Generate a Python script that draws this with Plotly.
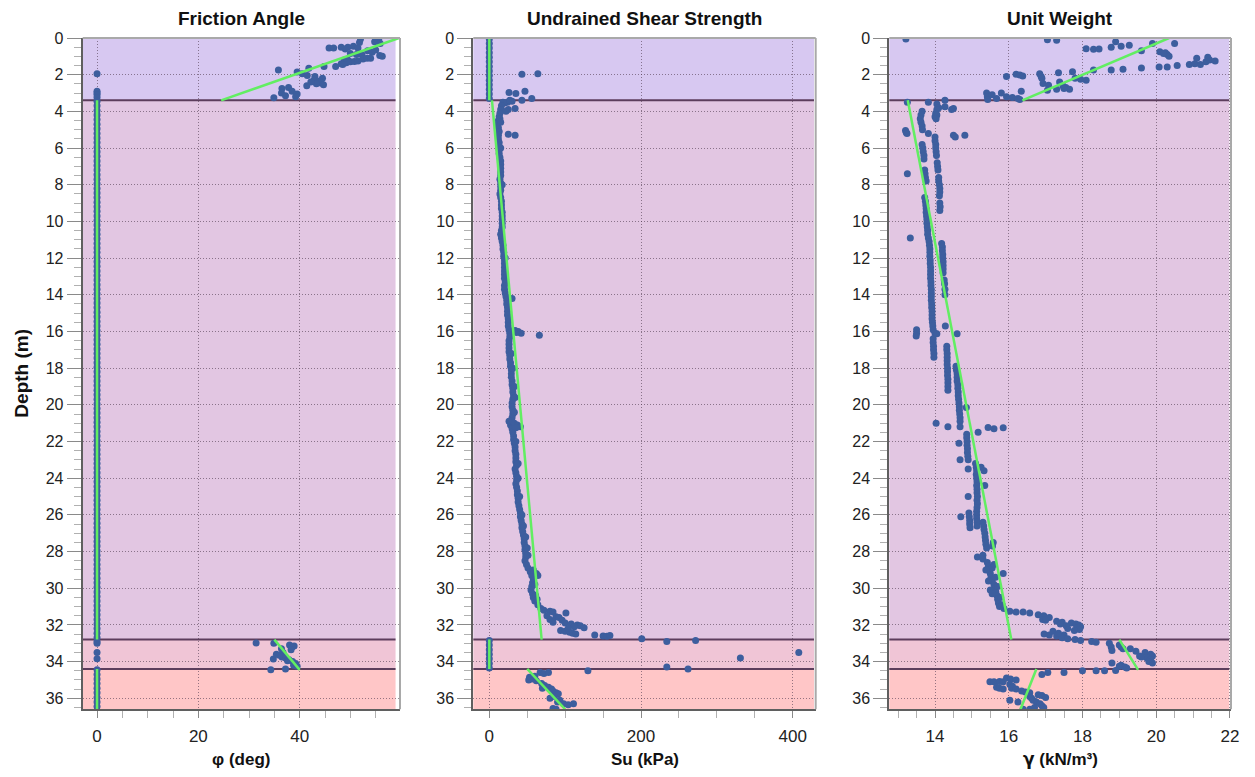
import plotly.graph_objects as go

# ---------------- layers ----------------
layer_tops = [0.0, 3.4, 32.8, 34.4]
layer_bottoms = [3.4, 32.8, 34.4, 36.6]
layer_colors = ["#d7c8f1", "#e2c6e2", "#f0c5d6", "#ffc6c7"]
boundary_depths = [3.4, 32.8, 34.4]

# ---------------- Friction angle (depth, phi) ----------------
phi_points_layer1 = [
    (0.05, 52.0), (0.02, 55.0), (0.1, 55.6), (0.2, 54.8), (0.3, 55.9), (0.25, 51.8), (0.5, 49.5),
    (0.55, 45.8), (0.55, 46.7), (0.5, 48.2), (0.45, 50.6), (0.55, 51.5), (0.6, 49.0), (0.65, 55.0),
    (0.7, 53.4), (0.78, 54.3), (0.85, 50.0), (0.9, 51.2), (0.92, 52.3), (0.95, 55.8), (1.0, 56.3),
    (1.2, 48.8), (1.2, 49.5), (1.15, 52.5), (1.1, 53.3), (1.1, 54.0), (1.4, 48.2), (1.35, 49.2),
    (1.3, 50.0), (1.28, 50.8), (1.45, 48.5), (1.25, 51.5), (1.55, 44.8), (1.55, 47.1), (1.65, 41.8),
    (1.75, 35.8), (1.85, 39.5), (1.95, 40.5), (2.05, 41.5), (2.1, 43.0), (2.2, 44.5), (2.3, 42.8),
    (2.35, 43.9), (2.45, 44.2), (2.5, 43.3), (2.55, 44.7), (2.4, 42.2), (2.6, 41.4), (2.7, 37.8),
    (2.75, 36.5), (2.9, 38.5), (3.0, 36.4), (3.05, 39.5), (3.2, 39.2), (3.26, 34.9), (3.15, 37.2),
]
phi_points_layer3 = [
    (32.99, 31.4), (33.0, 34.9), (34.44, 34.3), (33.86, 34.8), (33.6, 35.4), (33.3, 36.4),
    (33.5, 36.7), (33.75, 36.5), (33.8, 37.2), (33.95, 37.6), (34.4, 37.2), (33.1, 38.0),
    (33.2, 38.5), (33.15, 38.9), (33.35, 38.3), (34.0, 38.6), (34.1, 39.2), (34.25, 39.5),
    (34.2, 38.8), (33.65, 36.0), (33.9, 37.9),
]
phi_points_zero = [
    (1.95, 0), (2.9, 0), (3.0, 0), (3.1, 0), (3.25, 0),
    (3.45, 0), (3.7, 0), (3.95, 0), (4.2, 0), (4.45, 0), (4.7, 0), (4.95, 0), (5.2, 0), (5.45, 0), (5.7, 0),
    (5.95, 0), (6.2, 0), (6.45, 0), (6.7, 0), (6.95, 0), (7.2, 0), (7.45, 0), (7.7, 0), (7.95, 0), (8.2, 0),
    (8.45, 0), (8.7, 0), (8.95, 0), (9.2, 0), (9.45, 0), (9.7, 0), (9.95, 0), (10.2, 0), (10.45, 0), (10.7, 0),
    (10.95, 0), (11.2, 0), (11.45, 0), (11.7, 0), (11.95, 0), (12.2, 0), (12.45, 0), (12.7, 0), (12.95, 0), (13.2, 0),
    (13.45, 0), (13.7, 0), (13.95, 0), (14.2, 0), (14.45, 0), (14.7, 0), (14.95, 0), (15.2, 0), (15.45, 0), (15.7, 0),
    (15.95, 0), (16.2, 0), (16.45, 0), (16.7, 0), (16.95, 0), (17.2, 0), (17.45, 0), (17.7, 0), (17.95, 0), (18.2, 0),
    (18.45, 0), (18.7, 0), (18.95, 0), (19.2, 0), (19.45, 0), (19.7, 0), (19.95, 0), (20.2, 0), (20.45, 0), (20.7, 0),
    (20.95, 0), (21.2, 0), (21.45, 0), (21.7, 0), (21.95, 0), (22.2, 0), (22.45, 0), (22.7, 0), (22.95, 0), (23.2, 0),
    (23.45, 0), (23.7, 0), (23.95, 0), (24.2, 0), (24.45, 0), (24.7, 0), (24.95, 0), (25.2, 0), (25.45, 0), (25.7, 0),
    (25.95, 0), (26.2, 0), (26.45, 0), (26.7, 0), (26.95, 0), (27.2, 0), (27.45, 0), (27.7, 0), (27.95, 0), (28.2, 0),
    (28.45, 0), (28.7, 0), (28.95, 0), (29.2, 0), (29.45, 0), (29.7, 0), (29.95, 0), (30.2, 0), (30.45, 0), (30.7, 0),
    (30.95, 0), (31.2, 0), (31.45, 0), (31.7, 0), (31.95, 0), (32.2, 0), (32.45, 0), (32.7, 0), (32.9, 0), (33.0, 0),
    (33.5, 0), (33.85, 0),
    (34.45, 0), (34.7, 0), (34.95, 0), (35.2, 0), (35.45, 0), (35.7, 0), (35.95, 0), (36.2, 0), (36.45, 0), (36.7, 0),
]
phi_trend = [
    [(0.0, 59.6), (3.4, 24.5)],
    [(3.4, 0.0), (32.8, 0.0)],
    [(32.8, 35.0), (34.45, 40.0)],
    [(34.4, 0.0), (36.6, 0.0)],
]

# ---------------- Undrained shear strength (depth, Su) ----------------
su_points_layer1 = [
    (1.97, 43), (1.95, 64), (2.97, 26), (3.02, 35), (2.9, 47), (3.3, 56), (3.4, 43),
    (3.45, 30), (3.5, 24), (3.55, 20), (3.4, 27),
]
su_points_zero = [
    (0.05, 0), (0.3, 0), (0.55, 0), (0.8, 0), (1.05, 0), (1.3, 0), (1.55, 0), (1.8, 0), (2.05, 0),
    (2.3, 0), (2.55, 0), (2.8, 0), (3.05, 0), (3.3, 0),
    (32.85, 0), (33.1, 0), (33.35, 0), (33.6, 0), (33.85, 0), (34.1, 0), (34.35, 0),
]
su_points_layer2 = [
    (3.5, 18), (3.7, 16), (3.9, 15), (4.1, 14), (4.3, 13), (4.5, 12), (4.7, 11), (4.9, 12), (5.1, 13), (5.3, 12),
    (5.5, 12), (5.7, 13), (5.9, 13), (6.1, 13), (6.3, 13), (6.5, 14), (6.7, 15), (6.9, 15), (7.1, 15), (7.3, 15),
    (7.5, 15), (7.7, 14), (7.9, 15), (8.1, 15), (8.3, 15), (8.5, 14), (8.7, 15), (8.9, 16), (9.1, 16), (9.3, 16),
    (9.5, 17), (9.7, 17), (9.9, 17), (10.1, 17), (10.3, 17), (10.5, 16), (10.7, 15), (10.9, 16), (11.1, 17), (11.3, 18),
    (11.5, 18), (11.7, 19), (11.9, 19), (12.1, 20), (12.3, 20), (12.5, 20), (12.7, 20), (12.9, 20), (13.1, 20), (13.3, 21),
    (13.5, 20), (13.7, 20), (13.9, 21), (14.1, 22), (14.3, 23), (14.5, 23), (14.7, 24), (14.9, 24), (15.1, 24), (15.3, 25),
    (15.5, 25), (15.7, 25), (15.9, 26), (16.1, 27), (16.3, 27), (16.5, 26), (16.7, 26), (16.9, 26), (17.1, 26), (17.3, 27),
    (17.5, 27), (17.7, 28), (17.9, 28), (18.1, 29), (18.3, 29), (18.5, 29), (18.7, 30), (18.9, 30), (19.1, 31), (19.3, 31),
    (19.5, 32), (19.7, 31), (19.9, 30), (20.1, 30), (20.3, 31), (20.5, 31), (20.7, 30), (20.9, 29), (21.1, 28), (21.3, 30),
    (21.5, 31), (21.7, 32), (21.9, 32), (22.1, 33), (22.3, 34), (22.5, 34), (22.7, 35), (22.9, 35), (23.1, 35), (23.3, 36),
    (23.5, 34), (23.7, 35), (23.9, 36), (24.1, 36), (24.3, 35), (24.5, 36), (24.7, 37), (24.9, 37), (25.1, 38), (25.3, 38),
    (25.5, 39), (25.7, 40), (25.9, 41), (26.1, 41), (26.3, 42), (26.5, 43), (26.7, 43), (26.9, 44), (27.1, 45), (27.3, 46),
    (27.5, 46), (27.7, 47), (27.9, 47), (28.1, 48), (28.3, 48), (28.5, 47), (28.7, 49), (28.9, 51), (29.1, 54), (29.3, 56),
    (29.5, 58), (29.7, 57), (29.9, 56), (30.1, 55), (30.3, 57), (30.5, 58), (30.7, 60), (30.9, 64), (31.1, 68),
    (20.9, 26), (21.0, 33), (21.1, 37), (21.2, 41), (21.25, 35), (5.25, 25), (5.3, 34), (3.9, 25), (3.85, 34),
    (4.0, 22), (14.2, 30), (15.95, 34), (16.0, 38), (16.1, 42), (16.05, 36), (16.2, 66), (29.2, 62), (29.3, 64),
    (29.0, 58), (30.4, 61), (30.6, 63), (29.8, 60), (27.8, 50), (28.2, 51), (24.0, 38), (26.0, 43), (19.0, 33),
    (12.0, 21), (8.0, 17), (6.0, 15), (4.4, 14), (4.6, 15),
    (18.0, 31), (19.6, 34), (22.0, 35), (23.2, 38), (25.0, 40), (26.6, 45), (27.2, 48), (17.2, 29), (20.4, 33),
    (31.2, 72), (31.25, 80), (31.3, 84), (31.35, 101), (31.5, 76), (31.55, 88), (31.6, 92), (31.7, 80),
    (31.75, 96), (31.85, 84), (31.9, 100), (31.95, 108), (32.0, 116), (32.05, 120), (32.1, 112), (32.15, 125),
    (32.3, 94), (32.35, 100), (32.4, 106), (32.45, 110), (32.5, 114), (32.2, 104), (32.55, 139), (32.6, 150),
    (32.62, 155), (32.58, 159), (32.75, 201), (32.9, 234), (32.85, 272),
]
su_points_layer3 = [(33.8, 331), (33.5, 408), (34.3, 234), (34.4, 262), (34.5, 130)]
su_points_layer4 = [
    (34.6, 67), (34.65, 72), (34.6, 78), (34.8, 60), (34.85, 53), (34.95, 57), (35.05, 62), (35.2, 69),
    (35.3, 73), (35.4, 78), (35.5, 82), (35.6, 84), (35.7, 88), (35.75, 91), (35.9, 86), (36.0, 80),
    (36.1, 93), (36.2, 90), (36.3, 98), (36.35, 104), (36.3, 111), (36.55, 84), (36.6, 88), (35.45, 70),
    (35.0, 52),
]
su_trend = [
    [(0.0, 0.0), (3.4, 0.0)],
    [(3.4, 3.5), (32.8, 69.0)],
    [(32.8, 0.0), (34.4, 0.0)],
    [(34.4, 50.0), (36.6, 100.0)],
]

# ---------------- Unit weight (depth, gamma) ----------------
gamma_points_layer1 = [
    (0.05, 13.21), (0.1, 17.05), (0.12, 17.3), (0.58, 18.1), (0.62, 18.3), (0.6, 18.45), (0.5, 18.78),
    (0.2, 18.9), (0.45, 19.05), (0.4, 19.27), (0.7, 19.6), (0.3, 19.9), (0.75, 20.1), (0.8, 20.25),
    (0.9, 20.3), (1.0, 20.35), (0.85, 20.2), (0.3, 20.5), (1.58, 20.08), (1.58, 20.3), (1.5, 20.57),
    (1.45, 20.9), (1.4, 21.05), (1.45, 21.2), (1.1, 21.1), (1.3, 21.35), (1.2, 21.45), (1.25, 21.6),
    (1.05, 21.4), (1.63, 19.6), (1.7, 19.1), (1.75, 18.78), (1.75, 18.3), (1.84, 17.73), (2.2, 17.8),
    (2.25, 17.95), (2.3, 18.1), (1.9, 17.35), (1.95, 16.84), (2.1, 16.88), (2.2, 16.9), (2.48, 16.93),
    (2.57, 17.08), (2.4, 17.38), (2.6, 17.47), (2.7, 17.55), (2.8, 17.65), (2.75, 17.5), (2.8, 17.3),
    (2.85, 17.05), (1.97, 16.2), (2.02, 16.3), (2.07, 16.38), (2.1, 15.94), (2.9, 16.34), (3.2, 15.94),
    (3.25, 16.1), (3.3, 16.25), (3.35, 16.3), (3.3, 15.67), (3.0, 15.4), (3.2, 15.42), (3.35, 15.43),
    (3.1, 15.55), (3.0, 15.8),
]
gamma_points_layer2 = [
    (4.0, 13.65), (4.2, 13.62), (4.4, 13.6), (4.6, 13.62), (4.8, 13.65), (5.0, 13.66), (5.8, 13.65), (6.0, 13.67),
    (6.2, 13.68), (6.4, 13.7), (6.6, 13.7), (7.2, 13.72), (7.4, 13.73), (7.6, 13.74), (7.8, 13.76), (8.7, 13.72),
    (8.9, 13.74), (9.1, 13.75), (9.3, 13.76), (9.5, 13.76), (9.7, 13.77), (9.9, 13.78), (10.1, 13.78), (10.3, 13.79),
    (10.5, 13.8), (10.7, 13.8), (10.9, 13.82), (11.1, 13.84), (11.3, 13.85), (11.5, 13.86), (11.7, 13.86), (11.9, 13.86),
    (12.1, 13.87), (12.3, 13.87), (12.5, 13.88), (12.7, 13.88), (12.9, 13.88), (13.1, 13.88), (13.3, 13.89), (13.5, 13.89),
    (13.7, 13.9), (13.9, 13.9), (14.1, 13.9), (14.3, 13.9), (14.5, 13.91), (14.7, 13.91), (14.9, 13.92), (15.1, 13.92),
    (15.3, 13.92), (15.5, 13.93), (15.7, 13.94), (15.9, 13.95), (16.1, 14.0), (16.4, 13.95), (16.6, 13.95), (16.8, 13.96),
    (17.0, 13.96), (17.2, 13.97), (17.4, 13.97),
    (3.6, 14.05), (3.75, 14.27), (3.8, 14.1), (3.9, 14.05), (4.1, 14.02), (4.3, 14.0), (5.4, 14.0), (5.6, 14.0),
    (5.8, 14.02), (6.0, 14.02), (6.2, 14.03), (6.4, 14.04), (6.8, 14.06), (7.0, 14.07), (7.2, 14.08), (7.6, 14.1),
    (7.8, 14.1), (8.0, 14.12), (8.2, 14.13), (8.4, 14.13), (8.6, 14.12), (9.0, 14.13), (9.2, 14.14), (9.4, 14.13),
    (11.2, 14.18), (11.4, 14.2), (11.6, 14.2), (11.8, 14.21), (12.0, 14.21), (12.2, 14.22), (12.4, 14.22),
    (12.6, 14.22), (12.8, 14.22), (13.2, 14.25), (13.4, 14.26), (13.7, 14.27), (14.0, 14.27), (15.7, 14.28),
    (3.5, 13.25), (3.5, 13.82), (3.4, 14.27), (3.85, 14.5), (3.9, 14.45), (5.05, 13.2), (5.15, 13.22), (5.2, 13.24),
    (5.2, 13.82), (5.3, 14.5), (5.4, 14.55), (5.3, 14.81), (7.4, 13.25), (10.9, 13.33), (15.9, 13.5), (16.1, 13.5),
    (16.25, 13.49), (16.13, 14.05), (16.13, 14.6), (4.2, 14.05), (4.4, 14.03),
    (16.8, 14.32), (17.0, 14.32), (17.2, 14.33), (17.4, 14.33), (17.6, 14.33), (17.8, 14.33), (18.0, 14.34),
    (18.2, 14.34), (18.4, 14.34), (18.6, 14.35), (18.8, 14.35), (19.0, 14.35), (19.2, 14.35),
    (17.9, 14.57), (18.1, 14.58), (18.3, 14.6), (18.5, 14.6), (18.7, 14.6), (18.9, 14.62), (19.1, 14.62),
    (19.3, 14.63), (19.5, 14.63), (19.7, 14.64), (19.9, 14.65), (20.1, 14.66), (20.3, 14.66), (20.5, 14.67),
    (20.7, 14.68), (20.9, 14.68), (20.15, 14.85),
    (21.0, 14.03), (21.2, 14.35), (21.2, 14.68), (21.5, 15.17), (21.24, 15.44), (21.3, 15.6), (21.25, 15.85),
    (21.6, 14.86), (21.8, 14.86), (22.0, 14.87), (22.2, 14.87), (22.4, 14.88), (22.6, 14.88), (22.8, 14.89),
    (23.0, 14.9), (22.1, 14.65), (23.0, 14.68), (23.5, 14.9), (25.0, 14.9), (26.1, 14.7),
    (23.2, 15.1), (23.4, 15.12), (23.6, 15.13), (23.8, 15.12), (24.0, 15.13), (24.2, 15.14), (24.4, 15.13),
    (24.6, 15.14), (24.8, 15.14), (25.0, 15.15), (25.2, 15.14), (25.4, 15.15), (25.6, 15.14), (25.8, 15.13),
    (26.0, 15.13), (26.2, 15.13), (26.4, 15.14), (26.6, 15.14), (23.4, 15.25), (23.6, 15.33), (24.4, 15.35),
    (25.9, 14.92), (26.1, 14.93), (26.3, 14.94), (26.5, 14.94), (26.7, 14.95),
    (26.4, 15.3), (26.6, 15.32), (26.8, 15.33), (27.0, 15.35), (27.2, 15.36), (27.4, 15.37), (27.6, 15.38),
    (27.8, 15.4), (27.5, 15.58), (27.7, 15.56), (28.3, 15.15), (28.2, 15.3), (28.4, 15.3),
    (28.6, 15.42), (28.8, 15.45), (29.0, 15.44), (29.2, 15.5), (29.4, 15.52), (29.6, 15.55), (29.8, 15.6),
    (30.0, 15.63), (30.2, 15.65), (30.4, 15.68), (30.6, 15.7), (30.8, 15.72), (31.0, 15.75), (28.9, 15.55),
    (29.2, 15.85), (29.0, 15.38), (29.6, 15.45), (30.1, 15.5), (30.5, 15.78), (30.9, 15.82), (31.1, 15.87),
    (29.9, 15.7), (30.3, 15.55), (28.7, 15.6), (29.4, 15.64),
    (31.25, 16.03), (31.3, 16.2), (31.3, 16.39), (31.35, 16.57), (31.45, 16.8), (31.5, 16.95), (31.6, 17.1),
    (31.7, 16.92), (31.75, 17.0), (31.8, 17.3), (31.85, 17.45), (31.9, 17.7), (31.95, 17.82), (32.0, 17.9),
    (32.1, 17.95), (32.15, 17.85), (32.25, 17.92), (32.3, 17.78), (32.2, 17.6), (32.05, 17.56), (31.95, 17.4),
    (32.5, 16.96), (32.55, 17.1), (32.6, 17.3), (32.55, 17.5), (32.7, 17.45), (32.75, 17.6), (32.8, 17.8),
    (32.85, 17.95), (32.9, 18.25), (32.95, 18.37), (32.35, 17.2), (32.45, 17.35),
]
gamma_points_layer3 = [
    (33.0, 18.73), (33.2, 18.78), (33.4, 18.8), (33.1, 19.0), (33.2, 19.05), (33.3, 19.1), (33.3, 19.3),
    (33.44, 19.45), (33.5, 19.7), (33.6, 19.85), (33.7, 19.9), (33.8, 19.75), (33.9, 19.85), (34.0, 19.8),
    (34.08, 19.9), (33.7, 19.55), (33.75, 19.6), (34.08, 18.8), (34.2, 19.05), (34.3, 19.15), (34.35, 19.2),
    (34.25, 19.0), (34.5, 18.37), (34.5, 18.6), (34.48, 18.9), (34.5, 18.0), (34.6, 17.5), (34.6, 17.06),
    (34.7, 16.9),
]
gamma_points_layer4 = [
    (35.1, 15.49), (35.1, 15.6), (35.08, 15.75), (35.1, 15.85), (34.9, 15.94), (34.95, 16.05), (35.0, 16.2),
    (35.4, 15.67), (35.45, 15.75), (35.5, 15.85), (35.25, 16.03), (35.35, 16.1), (35.45, 16.08), (35.5, 16.2),
    (35.6, 16.35), (35.65, 16.45), (35.7, 16.57), (35.9, 16.57), (36.0, 16.62), (36.1, 16.66), (35.8, 16.8),
    (35.85, 16.9), (35.95, 17.0), (36.2, 16.75), (36.3, 16.85), (36.4, 16.9), (36.5, 16.95), (36.1, 16.03),
    (36.2, 16.25), (36.6, 16.39), (36.6, 16.57), (36.5, 16.7),
]
gamma_trend = [
    [(0.0, 20.35), (3.4, 16.37)],
    [(3.4, 13.26), (32.8, 16.07)],
    [(32.8, 19.0), (34.45, 19.51)],
    [(34.4, 16.75), (36.6, 16.32)],
]

# ---------------- axes / labels ----------------
titles = ["Friction Angle", "Undrained Shear Strength", "Unit Weight"]
x_titles = ["φ (deg)", "Su (kPa)", "<span style='font-family:DejaVu Sans'>γ</span> (kN/m³)"]
x_ranges = [[-2.83, 59.8], [-21.1, 430.3], [12.76, 22.03]]
x_dticks = [20, 200, 2]
x_minor_dticks = [5, 50, 0.5]
x_tick0 = [0, 0, 0]
y_range = [36.6, 0]

panel_points = [
    phi_points_layer1 + phi_points_layer3 + phi_points_zero,
    su_points_zero + su_points_layer1 + su_points_layer2 + su_points_layer3 + su_points_layer4,
    gamma_points_layer1 + gamma_points_layer2 + gamma_points_layer3 + gamma_points_layer4,
]
panel_trends = [phi_trend, su_trend, gamma_trend]

# the page body adds an 8px margin, so the figure is laid out in shifted pixels
OX, OY = 8, 8
W, H = 1247, 769


def px(x):
    return (x - OX) / W


def py(y):
    return 1 - (y - OY) / H


x_domains = [[px(82.7), px(400)], [px(473.3), px(815.7)], [px(889.3), px(1231)]]
y_domain = [py(709.3), py(38.0)]

FONT = "Liberation Sans, Arial, sans-serif"
BLUE = "#3d5e9e"
GREEN = "#62ee62"
BOUND = "#5c3d5c"
GRID = "rgba(80,60,80,0.6)"

fig = go.Figure()
shapes = []
annotations = []
layout_axes = {}

for i in range(3):
    n = "" if i == 0 else str(i + 1)
    xa, ya = "x" + n, "y" + n
    pts = panel_points[i]
    fig.add_trace(go.Scatter(
        x=[p[1] for p in pts], y=[p[0] for p in pts], mode="markers",
        marker=dict(size=7, color=BLUE, line=dict(width=0)),
        xaxis=xa, yaxis=ya, hoverinfo="skip", showlegend=False))
    tx, ty = [], []
    for seg in panel_trends[i]:
        for d, v in seg:
            tx.append(v)
            ty.append(d)
        tx.append(None)
        ty.append(None)
    fig.add_trace(go.Scatter(
        x=tx, y=ty, mode="lines", line=dict(color=GREEN, width=2.5),
        xaxis=xa, yaxis=ya, hoverinfo="skip", showlegend=False, connectgaps=False))

    fill_right = 0.986 if i == 0 else 0.995
    for top, bot, col in zip(layer_tops, layer_bottoms, layer_colors):
        shapes.append(dict(type="rect", xref=xa + " domain", yref=ya, x0=0, x1=fill_right,
                           y0=top, y1=bot, fillcolor=col, line=dict(width=0), layer="below"))
    for bd in boundary_depths:
        shapes.append(dict(type="line", xref=xa + " domain", yref=ya, x0=0, x1=fill_right,
                           y0=bd, y1=bd, line=dict(color=BOUND, width=2), layer="below"))
    # top and right frame
    shapes.append(dict(type="line", xref=xa + " domain", yref=ya + " domain", x0=0, x1=1, y0=1, y1=1,
                       line=dict(color="#a9a9a9", width=2), layer="above"))
    shapes.append(dict(type="line", xref=xa + " domain", yref=ya + " domain", x0=1, x1=1, y0=0, y1=1,
                       line=dict(color="#a9a9a9", width=2), layer="above"))

    key = "" if i == 0 else str(i + 1)
    layout_axes["xaxis" + key] = dict(
        domain=x_domains[i], anchor=ya, range=x_ranges[i], dtick=x_dticks[i], tick0=x_tick0[i],
        automargin=False,
        showgrid=True, gridcolor=GRID, griddash="1px,2px", gridwidth=1,
        zeroline=False, showline=True, linecolor="#5f5f5f", linewidth=2,
        ticks="outside", ticklen=7, tickcolor="#8a8a8a", tickwidth=1,
        minor=dict(dtick=x_minor_dticks[i], ticks="outside", ticklen=7, tickcolor="#b0b0b0", showgrid=False),
        tickfont=dict(family=FONT, size=17, color="#222"), ticklabelstandoff=3)
    layout_axes["yaxis" + key] = dict(
        domain=y_domain, anchor=xa, range=y_range, dtick=2, tick0=0,
        automargin=False,
        showgrid=True, gridcolor=GRID, griddash="1px,2px", gridwidth=1,
        zeroline=False, showline=True, linecolor="#5f5f5f", linewidth=2,
        ticks="outside", ticklen=14, tickcolor="#8a8a8a", tickwidth=1,
        minor=dict(dtick=0.5, ticks="outside", ticklen=7, tickcolor="#b0b0b0", showgrid=False),
        tickfont=dict(family=FONT, size=16, color="#222"))

    xc = (x_domains[i][0] + x_domains[i][1]) / 2
    annotations.append(dict(text="<b>" + titles[i] + "</b>", x=xc, y=py(19), xref="paper", yref="paper",
                            showarrow=False, xanchor="center", yanchor="middle",
                            font=dict(family=FONT, size=19, color="#111")))
    annotations.append(dict(text="<b>" + x_titles[i] + "</b>", x=xc, y=py(759), xref="paper", yref="paper",
                            showarrow=False, xanchor="center", yanchor="middle",
                            font=dict(family=FONT, size=17, color="#111")))

annotations.append(dict(text="<b>Depth (m)</b>", x=px(22), y=(y_domain[0] + y_domain[1]) / 2,
                        xref="paper", yref="paper", showarrow=False, textangle=-90,
                        xanchor="center", yanchor="middle", font=dict(family=FONT, size=19, color="#111")))

fig.update_layout(
    width=W, height=H, margin=dict(l=0, r=0, t=0, b=0, autoexpand=False),
    paper_bgcolor="white", plot_bgcolor="white",
    shapes=shapes, annotations=annotations, showlegend=False,
    **layout_axes)

fig.write_html("out.html", config={"displayModeBar": False})
